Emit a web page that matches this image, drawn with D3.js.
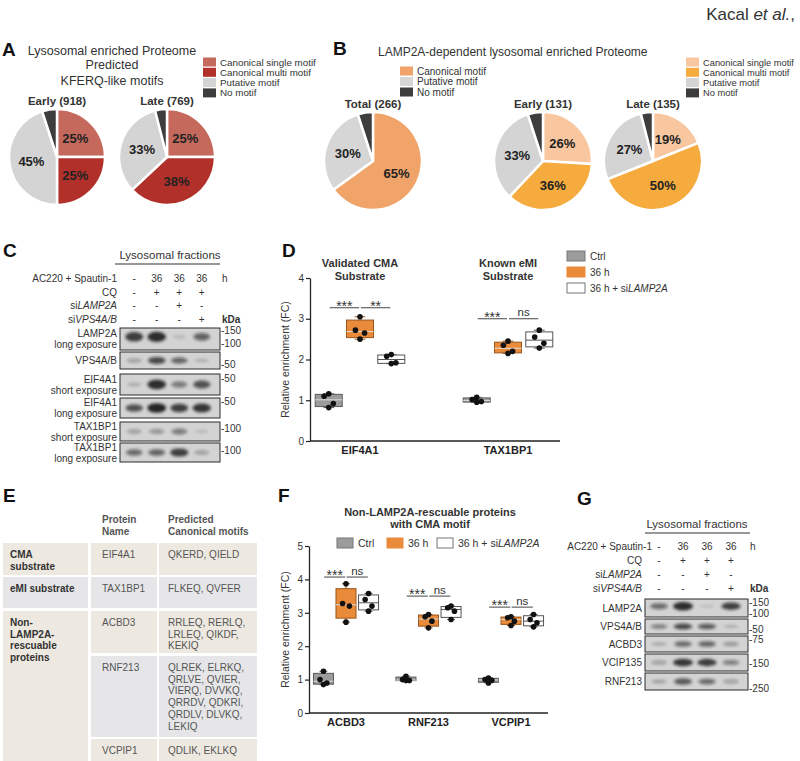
<!DOCTYPE html>
<html>
<head>
<meta charset="utf-8">
<script src="https://cdn.jsdelivr.net/npm/d3@7"></script>
<style>
  body { margin: 0; background: #fff; }
  svg { display: block; font-family: "Liberation Sans", Arial, sans-serif; }
</style>
</head>
<body>
<div id="chart"></div>
<script>
// ---- data ----
const motifsA = ['Canonical single motif', 'Canonical multi motif', 'Putative motif', 'No motif'];
const earlyA = [25, 25, 45, 5];
const lateA = [25, 38, 33, 4];
const motifsTotalB = ['Canonical motif', 'Putative motif', 'No motif'];
const totalB = [65, 30, 5];
const earlyB = [26, 36, 33, 5];
const lateB = [19, 50, 27, 4];

const conditions = ['Ctrl', '36 h', '36 h + siLAMP2A'];

const proteinsD = ['EIF4A1', 'TAX1BP1'];
const titlesD = [['Validated CMA', 'Substrate'], ['Known eMI', 'Substrate']];
const pointsD = [
  [[1.16, 1.1, 0.92, 0.82], [3.05, 2.72, 2.65, 2.5], [2.12, 2.08, 1.92, 1.9]],
  [[1.07, 1.02, 0.97, 0.95], [2.45, 2.35, 2.2, 2.15], [2.72, 2.55, 2.4, 2.28]],
];
const sigLabelsD = [['***', '**'], ['***', 'ns']];
const sigHeightD = [3.27, 3.0];
const yTicksD = [0, 1, 2, 3, 4];

const proteinsF = ['ACBD3', 'RNF213', 'VCPIP1'];
const pointsF = [
  [[1.25, 1.0, 0.9, 0.85], [3.87, 3.28, 3.2, 2.72], [3.58, 3.4, 3.2, 3.05]],
  [[1.1, 1.0, 0.97, 0.97], [2.95, 2.88, 2.75, 2.55], [3.2, 3.15, 3.05, 2.8]],
  [[1.05, 1.0, 0.98, 0.9], [2.88, 2.85, 2.75, 2.62], [2.95, 2.8, 2.7, 2.58]],
];
const sigLabelsF = [['***', 'ns'], ['***', 'ns'], ['***', 'ns']];
const sigHeightF = [4.07, 3.5, 3.17];
const yTicksF = [0, 1, 2, 3, 4, 5];

const treatRow = ['-', '36', '36', '36'];
const cqRow = ['-', '+', '+', '+'];
const siLampRow = ['-', '-', '+', '-'];
const siVpsRow = ['-', '-', '-', '+'];

const blotNamesC = [['LAMP2A', 'long exposure'], ['VPS4A/B'], ['EIF4A1', 'short exposure'],
  ['EIF4A1', 'long exposure'], ['TAX1BP1', 'short exposure'], ['TAX1BP1', 'long exposure']];
const bandsC = [[0.85, 0.95, 0.05, 0.6], [0.25, 0.75, 0.6, 0.12], [0.12, 0.95, 0.45, 0.7],
  [0.7, 1, 0.8, 0.9], [0.25, 0.3, 0.45, 0.06], [0.55, 0.6, 0.85, 0.25]];
const markersC = [['-150', '-100'], ['-50'], ['-50'], ['-50'], ['-100'], ['-100']];

const blotNamesG = [['LAMP2A'], ['VPS4A/B'], ['ACBD3'], ['VCIP135'], ['RNF213']];
const bandsG = [[0.55, 0.95, 0.03, 0.8], [0.45, 0.75, 0.65, 0.15], [0.15, 0.55, 0.6, 0.3],
  [0.25, 0.9, 0.85, 0.45], [0.2, 0.65, 0.55, 0.25]];
const markersG = [['-150', '-100'], ['-50'], ['-75'], ['-150'], ['-250']];

const tableGroups = [['CMA', 'substrate'], ['eMI substrate'], ['Non-', 'LAMP2A-', 'rescuable', 'proteins']];
const tableProteins = ['EIF4A1', 'TAX1BP1', 'ACBD3', 'RNF213', 'VCPIP1'];
const tableMotifs = [
  ['QKERD, QIELD'],
  ['FLKEQ, QVFER'],
  ['RRLEQ, RERLQ,', 'LRLEQ, QIKDF,', 'KEKIQ'],
  ['QLREK, ELRKQ,', 'QRLVE, QVIER,', 'VIERQ, DVVKQ,', 'QRRDV, QDKRI,', 'QRDLV, DLVKQ,', 'LEKIQ'],
  ['QDLIK, EKLKQ'],
];

// ---- styles ----
const colorsA = ['#c6695d', '#b2302a', '#d4d4d4', '#3d3d3d'];
const colorsTotalB = ['#f1a469', '#d6d6d6', '#3d3d3d'];
const colorsB = ['#f8c79f', '#f5ab3d', '#d4d4d4', '#3d3d3d'];
const boxFill = ['#9c9c9c', '#e98b3a', '#ffffff'];
const boxStroke = ['#5a5a5a', '#9a561d', '#555555'];
const ink = '#2b2b2b';

const svg = d3.select('#chart').append('svg')
  .attr('width', 800)
  .attr('height', 761);

svg.append('defs').append('filter')
  .attr('id', 'blur')
  .attr('x', '-30%').attr('y', '-60%').attr('width', '160%').attr('height', '220%')
  .append('feGaussianBlur')
  .attr('stdDeviation', 1.4);

function label(x, y, str, size, opts = {}) {
  return svg.append('text')
    .attr('x', x)
    .attr('y', y)
    .attr('text-anchor', opts.anchor || 'start')
    .style('font-size', `${size}px`)
    .style('font-weight', opts.bold ? 'bold' : 'normal')
    .style('font-style', opts.italic ? 'italic' : 'normal')
    .style('fill', opts.fill || ink)
    .text(str);
}

// "si" prefix stays upright, the gene name is italic
function siText(sel, str) {
  const k = str.indexOf('si');
  if (k >= 0) {
    sel.text(null);
    sel.append('tspan').text(str.slice(0, k + 2));
    sel.append('tspan').style('font-style', 'italic').text(str.slice(k + 2));
  }
  return sel;
}

// header
const hdr = label(795, 20, '', 17, { anchor: 'end', fill: '#333' });
hdr.append('tspan').text('Kacal ');
hdr.append('tspan').style('font-style', 'italic').text('et al.');
hdr.append('tspan').text(',');

// panel letters
[['A', 2, 56], ['B', 333, 55], ['C', 3, 257], ['D', 282, 257], ['E', 3, 502], ['F', 278, 502], ['G', 577, 505]]
  .forEach(([t, x, y]) => label(x, y, t, 19, { bold: true, fill: '#111' }));

// ---- pies ----
function drawPie(cx, cy, r, values, colors, title) {
  const pie = d3.pie().sort(null).value((d) => d);
  const arc = d3.arc().innerRadius(0).outerRadius(r);
  const labelArc = d3.arc().innerRadius(0).outerRadius(r * 1.08);
  const g = svg.append('g').attr('transform', `translate(${cx},${cy})`);
  const arcs = pie(values);

  g.selectAll('path')
    .data(arcs)
    .join('path')
    .attr('d', arc)
    .attr('fill', (d, i) => colors[i])
    .attr('stroke', '#fff')
    .attr('stroke-width', 2.5)
    .attr('stroke-linejoin', 'round');

  g.selectAll('text')
    .data(arcs.filter((d) => d.data >= 10))
    .join('text')
    .attr('transform', (d) => `translate(${labelArc.centroid(d)})`)
    .attr('text-anchor', 'middle')
    .attr('dy', '0.36em')
    .style('font-size', '13px')
    .style('font-weight', 'bold')
    .style('fill', '#222')
    .text((d) => `${d.data}%`);

  label(cx, cy - r - 4, title, 11.5, { anchor: 'middle', bold: true, fill: '#333' });
}

function drawLegend(x, y0, dy, names, colors, size) {
  names.forEach((n, i) => {
    svg.append('rect')
      .attr('x', x).attr('y', y0 + i * dy - 4.5)
      .attr('width', 13).attr('height', 9)
      .attr('fill', colors[i]);
    label(x + 17, y0 + i * dy + 3.5, n, size, { fill: '#333' });
  });
}

['Lysosomal enriched Proteome', 'Predicted', 'KFERQ-like motifs']
  .forEach((t, i) => label(112, [55, 69, 85][i], t, 12.5, { anchor: 'middle', fill: '#333' }));
drawLegend(203, 62, 10.3, motifsA, colorsA, 9.8);
drawPie(57, 157, 48, earlyA, colorsA, 'Early (918)');
drawPie(167, 157, 48, lateA, colorsA, 'Late (769)');

label(378, 56, 'LAMP2A-dependent lysosomal enriched Proteome', 12, { fill: '#333' });
drawLegend(400, 71, 10.5, motifsTotalB, colorsTotalB, 10);
drawLegend(686, 62, 10.3, motifsA, colorsB, 9.3);
drawPie(373, 161, 49, totalB, colorsTotalB, 'Total (266)');
drawPie(543, 161, 49, earlyB, colorsB, 'Early (131)');
drawPie(653, 161, 49, lateB, colorsB, 'Late (135)');

// ---- western blots ----
function drawBlot(cfg) {
  const lanes = d3.scaleBand().domain(d3.range(4)).range(cfg.laneRange);
  const lc = (i) => lanes(i) + lanes.bandwidth() / 2;

  label(cfg.titleX, cfg.titleY, 'Lysosomal fractions', 11.5, { anchor: 'middle', fill: '#333' });
  svg.append('line')
    .attr('x1', cfg.lineX[0]).attr('x2', cfg.lineX[1])
    .attr('y1', cfg.titleY + 5).attr('y2', cfg.titleY + 5)
    .attr('stroke', '#333').attr('stroke-width', 1.2);

  const rows = [['AC220 + Spautin-1', treatRow], ['CQ', cqRow], ['siLAMP2A', siLampRow], ['siVPS4A/B', siVpsRow]];
  rows.forEach(([name, vals], r) => {
    const y = cfg.headerY[r];
    siText(label(r === 0 ? cfg.firstLabelX : cfg.labelX, y, name, 10, { anchor: 'end', fill: '#333' }), name);
    vals.forEach((v, i) => label(lc(i), y, v, 10, { anchor: 'middle', fill: '#333' }));
  });
  label(cfg.blotX[1] + 2, cfg.headerY[0], 'h', 10, { fill: '#333' });
  label(cfg.blotX[1] + 2, cfg.headerY[3], 'kDa', 10, { bold: true, fill: '#333' });

  cfg.names.forEach((names, r) => {
    const [top, h] = cfg.rows[r];
    const g = svg.append('g');
    g.append('rect')
      .attr('x', cfg.blotX[0]).attr('y', top)
      .attr('width', cfg.blotX[1] - cfg.blotX[0]).attr('height', h)
      .attr('fill', '#d3d3d3')
      .attr('stroke', '#2a2a2a').attr('stroke-width', 1);
    const cy = top + h * cfg.bandPos[r];
    g.append('g')
      .attr('filter', 'url(#blur)')
      .selectAll('ellipse')
      .data(cfg.bands[r])
      .join('ellipse')
      .attr('cx', (d, i) => lc(i))
      .attr('cy', cy)
      .attr('rx', (d) => lanes.bandwidth() * (0.3 + 0.12 * d))
      .attr('ry', (d) => h * (0.08 + 0.16 * d))
      .attr('fill', '#151515')
      .attr('opacity', (d) => 0.08 + 0.85 * d);

    const mid = top + h / 2;
    names.forEach((n, k) => {
      const y = names.length === 1 ? mid + 3.5 : mid - 2 + k * 11;
      label(cfg.labelX, y, n, 10, { anchor: 'end', fill: '#333' });
    });
    cfg.markers[r].forEach((m, k) => {
      label(cfg.blotX[1] + 1, cfg.markerY[r][k] + 3.5, m, 10, { fill: '#333' });
    });
  });
}

drawBlot({
  laneRange: [123, 213],
  blotX: [120, 220],
  titleX: 170,
  titleY: 259,
  lineX: [115, 220],
  headerY: [282, 296, 309, 323],
  labelX: 117,
  firstLabelX: 117,
  names: blotNamesC,
  bands: bandsC,
  markers: markersC,
  rows: [[328, 22], [352, 17], [374, 21], [398, 20], [422, 19], [443, 19]],
  bandPos: [0.4, 0.5, 0.5, 0.5, 0.5, 0.5],
  markerY: [[330, 343], [364], [378], [401], [428], [450]],
});

drawBlot({
  laneRange: [647, 743],
  blotX: [645, 748],
  titleX: 697,
  titleY: 528,
  lineX: [645, 750],
  headerY: [550, 564, 578, 592],
  labelX: 642,
  firstLabelX: 652,
  names: blotNamesG,
  bands: bandsG,
  markers: markersG,
  rows: [[599, 18], [619, 15], [636, 16], [654, 17], [673, 17]],
  bandPos: [0.4, 0.5, 0.5, 0.5, 0.5],
  markerY: [[602, 613], [629], [639], [663], [688]],
});

// ---- box plots ----
function quart(sorted, p) {
  // (n+1) method as in GraphPad
  const n = sorted.length;
  const pos = p * (n + 1);
  if (pos <= 1) return sorted[0];
  if (pos >= n) return sorted[n - 1];
  const lo = Math.floor(pos);
  return sorted[lo - 1] + (pos - lo) * (sorted[lo] - sorted[lo - 1]);
}

const jitter = [0, -0.17, 0.17, 0];

function drawBoxPanel(cfg) {
  const y = d3.scaleLinear().domain([0, cfg.yMax]).range(cfg.yRange);
  const x = d3.scaleBand().domain(cfg.proteins).range(cfg.xRange);
  const sub = d3.scaleBand().domain(conditions).range([-x.bandwidth() * cfg.groupFrac, x.bandwidth() * cfg.groupFrac]);
  const cx = (p, c) => x(p) + x.bandwidth() / 2 + sub(c) + sub.bandwidth() / 2;
  const bw = cfg.boxWidth;

  const axis = svg.append('g')
    .attr('transform', `translate(${cfg.axisX},0)`)
    .call(d3.axisLeft(y).tickValues(cfg.ticks).tickFormat(d3.format('d'))
      .tickSize(4).tickSizeOuter(0).tickPadding(2));
  axis.select('.domain').attr('stroke', '#222').attr('stroke-width', 1.3);
  axis.selectAll('.tick line').attr('stroke', '#222').attr('stroke-width', 1.2);
  axis.selectAll('.tick text').style('font-size', '10px').style('fill', '#333').style('font-family', 'inherit');

  svg.append('line')
    .attr('x1', cfg.axisX).attr('x2', cfg.axisEnd)
    .attr('y1', cfg.yRange[0]).attr('y2', cfg.yRange[0])
    .attr('stroke', '#222').attr('stroke-width', 1.3);

  svg.append('text')
    .attr('transform', `translate(${cfg.yLabelX},${(cfg.yRange[0] + cfg.yRange[1]) / 2}) rotate(-90)`)
    .attr('text-anchor', 'middle')
    .style('font-size', '10.5px')
    .style('fill', '#333')
    .text('Relative enrichment (FC)');

  cfg.proteins.forEach((p, pi) => {
    label(x(p) + x.bandwidth() / 2, cfg.yRange[0] + 13, p, 11, { anchor: 'middle', bold: true, fill: '#222' });

    conditions.forEach((c, ci) => {
      const pts = cfg.points[pi][ci].slice().sort(d3.ascending);
      const q1 = quart(pts, 0.25);
      const med = quart(pts, 0.5);
      const q3 = quart(pts, 0.75);
      const c0 = cx(p, c);
      const g = svg.append('g');
      g.append('line')
        .attr('x1', c0).attr('x2', c0)
        .attr('y1', y(pts[0])).attr('y2', y(pts[pts.length - 1]))
        .attr('stroke', boxStroke[ci]).attr('stroke-width', 1);
      [pts[0], pts[pts.length - 1]].forEach((v) => {
        g.append('line')
          .attr('x1', c0 - bw * 0.2).attr('x2', c0 + bw * 0.2)
          .attr('y1', y(v)).attr('y2', y(v))
          .attr('stroke', boxStroke[ci]).attr('stroke-width', 1);
      });
      g.append('rect')
        .attr('x', c0 - bw / 2).attr('y', y(q3))
        .attr('width', bw).attr('height', Math.max(1, y(q1) - y(q3)))
        .attr('fill', boxFill[ci])
        .attr('stroke', boxStroke[ci]).attr('stroke-width', 1);
      g.append('line')
        .attr('x1', c0 - bw / 2).attr('x2', c0 + bw / 2)
        .attr('y1', y(med)).attr('y2', y(med))
        .attr('stroke', ci === 2 ? '#555' : '#ddd').attr('stroke-width', 1);
      const desc = cfg.points[pi][ci].slice().sort(d3.descending);
      g.selectAll('circle')
        .data(desc)
        .join('circle')
        .attr('cx', (d, k) => c0 + jitter[k] * bw)
        .attr('cy', (d) => y(d))
        .attr('r', 2.8)
        .attr('fill', '#111');
    });

    const ly = y(cfg.sigHeight[pi]);
    cfg.sigLabels[pi].forEach((s, k) => {
      const a = cx(p, conditions[k]);
      const b = cx(p, conditions[k + 1]);
      const m = (a + b) / 2;
      const half = sub.bandwidth() * 0.47;
      svg.append('line')
        .attr('x1', m - half).attr('x2', m + half)
        .attr('y1', ly).attr('y2', ly)
        .attr('stroke', '#444').attr('stroke-width', 1);
      const star = s.includes('*');
      label(m, ly + (star ? 3 : -2.5), s, star ? 14 : 11.5, { anchor: 'middle', fill: '#333' });
    });
  });
}

// D
drawBoxPanel({
  proteins: proteinsD,
  points: pointsD,
  sigLabels: sigLabelsD,
  sigHeight: sigHeightD,
  ticks: yTicksD,
  yMax: 4,
  yRange: [441, 278],
  xRange: [286, 582],
  groupFrac: 0.317,
  boxWidth: 27,
  axisX: 310,
  axisEnd: 560,
  yLabelX: 289,
});
titlesD.forEach((t, i) => {
  const xc = [360, 508][i];
  t.forEach((s, k) => label(xc, 267 + k * 13, s, 11, { anchor: 'middle', bold: true, fill: '#333' }));
});
conditions.forEach((c, i) => {
  svg.append('rect')
    .attr('x', 567).attr('y', 251 + i * 16)
    .attr('width', 18).attr('height', 10)
    .attr('fill', boxFill[i]).attr('stroke', i === 1 ? '#e98b3a' : '#777').attr('stroke-width', 1);
  siText(label(590, 260 + i * 16, c, 10, { fill: '#333' }), c);
});

// F
['Non-LAMP2A-rescuable proteins', 'with CMA motif']
  .forEach((t, k) => label(430, 516 + k * 12, t, 11, { anchor: 'middle', bold: true, fill: '#333' }));
drawBoxPanel({
  proteins: proteinsF,
  points: pointsF,
  sigLabels: sigLabelsF,
  sigHeight: sigHeightF,
  ticks: yTicksF,
  yMax: 5,
  yRange: [713, 546],
  xRange: [304.75, 552.25],
  groupFrac: 0.41,
  boxWidth: 20,
  axisX: 309,
  axisEnd: 548,
  yLabelX: 289,
});
const legFx = [337, 387, 437];
conditions.forEach((c, i) => {
  svg.append('rect')
    .attr('x', legFx[i]).attr('y', 538)
    .attr('width', 16).attr('height', 10)
    .attr('fill', boxFill[i]).attr('stroke', i === 1 ? '#e98b3a' : '#777').attr('stroke-width', 1);
  siText(label(legFx[i] + 21, 547, c, 10.5, { fill: '#333' }), c);
});

// ---- table E ----
const colX = [[3, 88], [91, 157], [159, 257]];
const rowY = [[543, 32], [577, 31], [611, 42], [656, 81], [739, 30]];
const rowFill = ['#ede8e0', '#e6e6e8', '#ede8e0', '#e6e6e8', '#ede8e0'];
const groupRows = [[0, 0], [1, 1], [2, 4]];

label(102, 523, 'Protein', 10, { bold: true, fill: '#555' });
label(102, 535, 'Name', 10, { bold: true, fill: '#555' });
label(168, 523, 'Predicted', 10, { bold: true, fill: '#555' });
label(168, 535, 'Canonical motifs', 10, { bold: true, fill: '#555' });

tableProteins.forEach((p, r) => {
  const [top, h] = rowY[r];
  [1, 2].forEach((c) => {
    svg.append('rect')
      .attr('x', colX[c][0]).attr('y', top)
      .attr('width', colX[c][1] - colX[c][0]).attr('height', h)
      .attr('fill', rowFill[r]);
  });
  label(colX[1][0] + 11, top + 15, p, 10, { fill: '#555' });
  tableMotifs[r].forEach((m, k) => label(colX[2][0] + 9, top + 15 + k * 11.7, m, 10, { fill: '#555' }));
});

tableGroups.forEach((lines, gi) => {
  const [r0, r1] = groupRows[gi];
  const top = rowY[r0][0];
  const bottom = rowY[r1][0] + rowY[r1][1];
  svg.append('rect')
    .attr('x', colX[0][0]).attr('y', top)
    .attr('width', colX[0][1] - colX[0][0]).attr('height', bottom - top)
    .attr('fill', rowFill[r0]);
  lines.forEach((s, k) => label(colX[0][0] + 7, top + 15 + k * 11.7, s, 10, { bold: true, fill: '#333' }));
});
</script>
</body>
</html>
